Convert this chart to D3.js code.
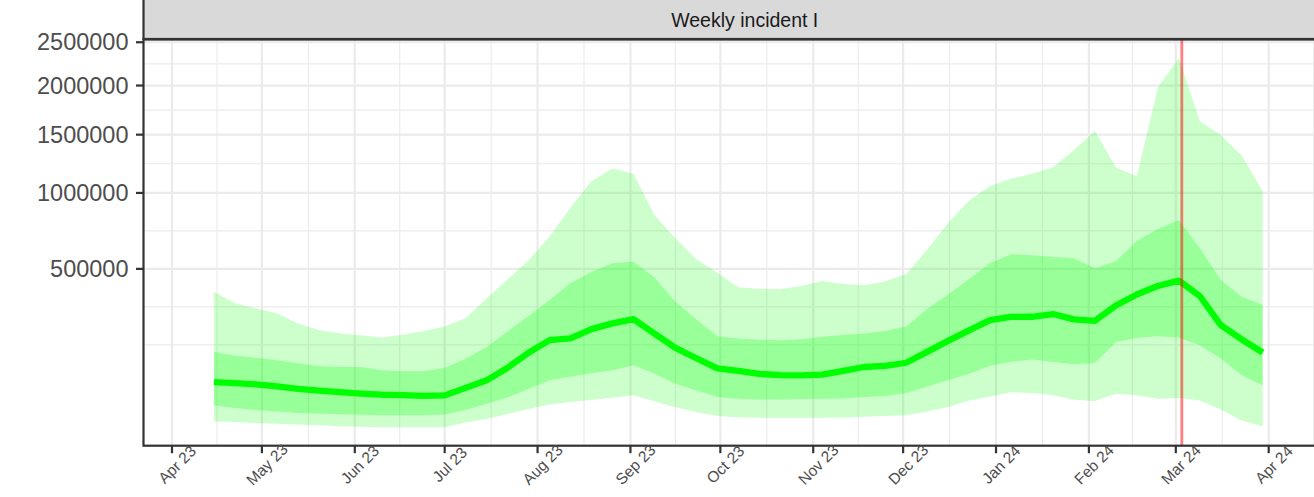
<!DOCTYPE html>
<html><head><meta charset="utf-8">
<script src="https://cdn.jsdelivr.net/npm/d3@7"></script>
<style>body{margin:0;background:#fff}svg{display:block}text{font-family:"Liberation Sans",Arial,Helvetica,sans-serif}</style>
</head><body><svg id="chart" width="1314" height="497"></svg>
<script>
const dates = ["2023-04-15","2023-04-22","2023-04-29","2023-05-06","2023-05-13","2023-05-20","2023-05-27","2023-06-03","2023-06-10","2023-06-17","2023-06-24","2023-07-01","2023-07-08","2023-07-15","2023-07-22","2023-07-29","2023-08-05","2023-08-12","2023-08-19","2023-08-26","2023-09-02","2023-09-09","2023-09-16","2023-09-23","2023-09-30","2023-10-07","2023-10-14","2023-10-21","2023-10-28","2023-11-04","2023-11-11","2023-11-18","2023-11-25","2023-12-02","2023-12-09","2023-12-16","2023-12-23","2023-12-30","2024-01-06","2024-01-13","2024-01-20","2024-01-27","2024-02-03","2024-02-10","2024-02-17","2024-02-24","2024-03-02","2024-03-09","2024-03-16","2024-03-23","2024-03-30"];
const median = [73300,71000,68500,64500,59700,56400,53600,51200,49200,48400,47200,48100,61600,76900,106100,147300,186800,192600,225500,246900,263700,209200,161900,131400,104800,98700,91500,88500,88000,89600,98700,108100,111200,119100,149700,184500,220700,259800,272600,273000,284000,262500,257000,320200,370200,411300,438100,363200,240400,189200,147900];
const innerHi = [149700,138500,132800,125900,117700,109900,108100,108100,99900,97400,97400,106100,130000,165100,216400,275800,344700,426400,483800,531900,540900,454700,337100,261800,200400,192600,188500,186800,190200,198700,204600,209900,218900,234800,305000,370200,446900,530700,582700,576800,566300,559300,504000,543200,665300,741300,801100,620000,441700,359900,322400];
const innerLo = [32600,29200,26600,24700,22900,22000,21400,20900,20400,20400,20400,21200,26600,35000,44700,59700,76900,84600,92700,99900,112500,91500,70000,56900,45500,42600,41200,41500,42300,42600,42800,45200,47200,52400,64500,76900,91500,111200,121800,127800,121200,115100,118500,180200,194600,200400,196000,170500,130600,88000,66500];
const outerHi = [383500,329900,307200,286900,246100,221800,209900,203900,196000,205000,218200,234800,267700,352500,444300,547800,690800,890100,1092700,1198000,1153400,836100,681200,553500,478500,404900,397600,395100,411300,436600,421400,414800,434000,473100,609600,781800,942000,1054200,1112200,1153400,1209000,1355400,1535000,1206400,1133600,1979800,2312000,1632500,1494000,1310700,1013200];
const outerLo = [14300,13600,12700,12100,11400,10800,10100,9700,9300,9300,9300,9300,13100,16600,21800,27900,34000,37700,41000,44200,48100,38700,30200,24100,19500,18300,17700,17600,17600,17700,18000,18700,19500,20300,24700,30500,39900,46400,53600,52000,48100,41000,38900,51000,48100,42600,43600,39900,27200,15000,9800];
const yTicks = [500000,1000000,1500000,2000000,2500000];
const xTickDates = ["2023-04-01","2023-05-01","2023-06-01","2023-07-01","2023-08-01","2023-09-01","2023-10-01","2023-11-01","2023-12-01","2024-01-01","2024-02-01","2024-03-01","2024-04-01"];
const xTickLabels = ["Apr 23","May 23","Jun 23","Jul 23","Aug 23","Sep 23","Oct 23","Nov 23","Dec 23","Jan 24","Feb 24","Mar 24","Apr 24"];
const stripTitle = "Weekly incident I";
const vlineDate = "2024-03-03";

const svg = d3.select("#chart");
const panel = {left:143.5, right:1346, top:39.5, bottom:445.7};
const parse = d3.utcParse("%Y-%m-%d");
const x = d3.scaleUtc().domain([parse("2023-04-01"), parse("2024-04-01")]).range([172, 1268.7]);
const allV = outerLo.concat(outerHi);
const sMin = Math.sqrt(d3.min(allV)), sMax = Math.sqrt(d3.max(allV));
const pad = 0.05*(sMax - sMin);
const y = d3.scaleSqrt().domain([(sMin-pad)**2, (sMax+pad)**2]).range([panel.bottom, panel.top]);

const rows = dates.map((d,i)=>({date:parse(d), m:median[i], ih:innerHi[i], il:innerLo[i], oh:outerHi[i], ol:outerLo[i]}));

svg.append("rect").attr("width",1314).attr("height",497).attr("fill","#fff");
svg.append("defs").append("clipPath").attr("id","pclip").append("rect")
  .attr("x",panel.left).attr("y",panel.top).attr("width",panel.right-panel.left).attr("height",panel.bottom-panel.top);
const g = svg.append("g").attr("clip-path","url(#pclip)");

const mb = yTicks.map(Math.sqrt);
const ext = [mb[0]-(mb[1]-mb[0]), ...mb, mb[mb.length-1]+(mb[mb.length-1]-mb[mb.length-2])];
const yMinor = [];
for (let i=0;i<ext.length-1;i++){ yMinor.push(ext[i], (ext[i]+ext[i+1])/2); }
const sLo = sMin-pad, sHi = sMax+pad;
yMinor.filter(s=>s>=sLo && s<=sHi).forEach(s=>{
  g.append("line").attr("x1",panel.left).attr("x2",panel.right).attr("y1",y(s*s)).attr("y2",y(s*s))
   .attr("stroke","#EBEBEB").attr("stroke-width",1.1);
});
const xt = xTickDates.map(parse);
const xExt = [new Date(+xt[0]-(xt[1]-xt[0])), ...xt, new Date(+xt[xt.length-1]+(xt[1]-xt[0]))];
for (let i=0;i<xExt.length-1;i++){
  const mid = new Date((+xExt[i] + +xExt[i+1])/2);
  g.append("line").attr("x1",x(mid)).attr("x2",x(mid)).attr("y1",panel.top).attr("y2",panel.bottom)
   .attr("stroke","#EBEBEB").attr("stroke-width",1.1);
}
yTicks.forEach(v=>{
  g.append("line").attr("x1",panel.left).attr("x2",panel.right).attr("y1",y(v)).attr("y2",y(v))
   .attr("stroke","#EBEBEB").attr("stroke-width",2.2);
});
xt.forEach(d=>{
  g.append("line").attr("x1",x(d)).attr("x2",x(d)).attr("y1",panel.top).attr("y2",panel.bottom)
   .attr("stroke","#EBEBEB").attr("stroke-width",2.2);
});

g.append("path").datum(rows).attr("fill","#00ff00").attr("fill-opacity",0.2)
  .attr("d", d3.area().x(d=>x(d.date)).y0(d=>y(d.ol)).y1(d=>y(d.oh)));
g.append("path").datum(rows).attr("fill","#00ff00").attr("fill-opacity",0.25)
  .attr("d", d3.area().x(d=>x(d.date)).y0(d=>y(d.il)).y1(d=>y(d.ih)));
g.append("path").datum(rows).attr("fill","none").attr("stroke","#00ff00").attr("stroke-width",6.3)
  .attr("stroke-linejoin","round").attr("d", d3.line().x(d=>x(d.date)).y(d=>y(d.m)));
const vx = x(parse(vlineDate));
g.append("line").attr("x1",vx).attr("x2",vx).attr("y1",panel.top).attr("y2",panel.bottom)
  .attr("stroke","#ff0000").attr("stroke-opacity",0.5).attr("stroke-width",2.8);

svg.append("rect").attr("x",panel.left).attr("y",panel.top).attr("width",panel.right-panel.left).attr("height",panel.bottom-panel.top)
  .attr("fill","none").attr("stroke","#333333").attr("stroke-width",2.2);
svg.append("rect").attr("x",panel.left).attr("y",-10).attr("width",panel.right-panel.left).attr("height",panel.top+10-0.5)
  .attr("fill","#D9D9D9").attr("stroke","#333333").attr("stroke-width",2.2);
svg.append("text").attr("x",(panel.left+panel.right)/2).attr("y",19.5).attr("text-anchor","middle")
  .attr("dominant-baseline","central").attr("font-size",19.5).attr("fill","#1A1A1A").text(stripTitle);

yTicks.forEach(v=>{
  svg.append("line").attr("x1",136).attr("x2",panel.left).attr("y1",y(v)).attr("y2",y(v)).attr("stroke","#333333").attr("stroke-width",2.2);
  svg.append("text").attr("x",128.5).attr("y",y(v)).attr("text-anchor","end").attr("dominant-baseline","central")
    .attr("font-size",23.5).attr("fill","#4D4D4D").text(d3.format("d")(v));
});
xt.forEach((d,i)=>{
  const px = x(d);
  svg.append("line").attr("x1",px).attr("x2",px).attr("y1",panel.bottom).attr("y2",panel.bottom+7.5).attr("stroke","#333333").attr("stroke-width",2.2);
  const cx = px+5, cy = 464.5;
  svg.append("text").attr("x",cx).attr("y",cy).attr("text-anchor","middle").attr("dominant-baseline","central")
    .attr("transform",`rotate(-45,${cx},${cy})`).attr("font-size",15.5).attr("fill","#4D4D4D").text(xTickLabels[i]);
});
</script></body></html>
